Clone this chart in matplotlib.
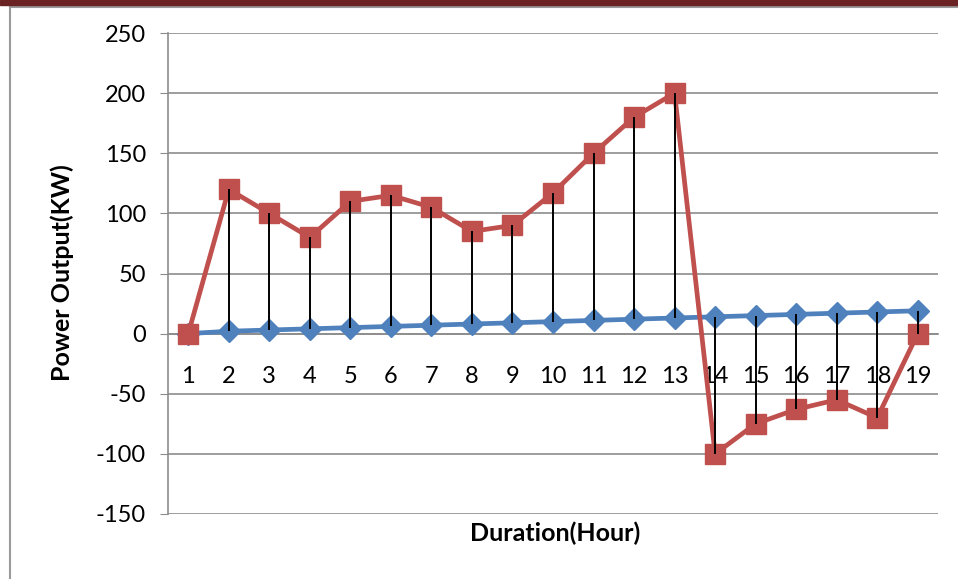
import numpy as np
import matplotlib.pyplot as plt
from matplotlib.patches import Rectangle
from matplotlib.lines import Line2D

plt.rcParams['font.family'] = ['Lato', 'DejaVu Sans']
plt.rcParams['axes.unicode_minus'] = False

# data
hours = list(range(1, 20))
blue_vals = [0, 2, 3, 4, 5, 6, 7, 8, 9, 10, 11, 12, 13, 14, 15, 16, 17, 18, 19]
red_vals = [0, 120, 100, 80, 110, 115, 105, 85, 90, 117, 150, 180, 200,
            -100, -75, -63, -55, -70, 0]
y_ticks = [-150, -100, -50, 0, 50, 100, 150, 200, 250]

W, H = 958, 579
fig = plt.figure(figsize=(W / 100, H / 100), dpi=100)
ax = fig.add_axes([168 / W, 1 - 514 / H, (938 - 168) / W, (514 - 33) / H])

x = np.array(hours)
blue = np.array(blue_vals)
red = np.array(red_vals)

ax.plot(x, blue, color='#4f81bd', lw=3.4, marker='D', ms=11, zorder=3)
ax.plot(x, red, color='#c0504d', lw=3.4, marker='s', ms=14, zorder=4)
# high-low lines
ax.vlines(x, np.minimum(blue, red), np.maximum(blue, red), color='black', lw=1.4, zorder=5)

ax.set_xlim(0.5, 19.5)
ax.set_ylim(-150, 250)
ax.set_yticks(y_ticks)
ax.yaxis.grid(True, color='#8c8c8c', lw=1.2)
ax.set_axisbelow(True)

for s in ['top', 'right']:
    ax.spines[s].set_visible(False)
ax.spines['left'].set_color('#8c8c8c')
ax.spines['left'].set_linewidth(1.2)
ax.spines['bottom'].set_position(('data', 0))
ax.spines['bottom'].set_color('#8c8c8c')
ax.spines['bottom'].set_linewidth(1.2)

ax.set_xticks(hours)
ax.set_xticklabels([str(h) for h in hours])
ax.tick_params(axis='x', length=0, pad=23, labelsize=17)
ax.tick_params(axis='y', length=6, pad=10, labelsize=17, color='#8c8c8c', direction='out')

fig.text(555 / W, 1 - 533 / H, 'Duration(Hour)', ha='center', va='center',
         fontsize=18, fontweight='bold')
fig.text(62 / W, 1 - 273 / H, 'Power Output(KW)', ha='center', va='center',
         rotation=90, fontsize=18, fontweight='bold')

# slide decoration: dark red band and chart frame
fig.add_artist(Rectangle((0, 1 - 5 / H), 1, 5 / H, transform=fig.transFigure,
                         color='#6b2222', zorder=10))
fig.add_artist(Line2D([10 / W, 1], [1 - 6.5 / H, 1 - 6.5 / H], transform=fig.transFigure,
                      color='#9a9a9a', lw=1.5))
fig.add_artist(Line2D([10 / W, 10 / W], [0, 1 - 6.5 / H], transform=fig.transFigure,
                      color='#9a9a9a', lw=1.5))

fig.savefig('out.png', dpi=100)
